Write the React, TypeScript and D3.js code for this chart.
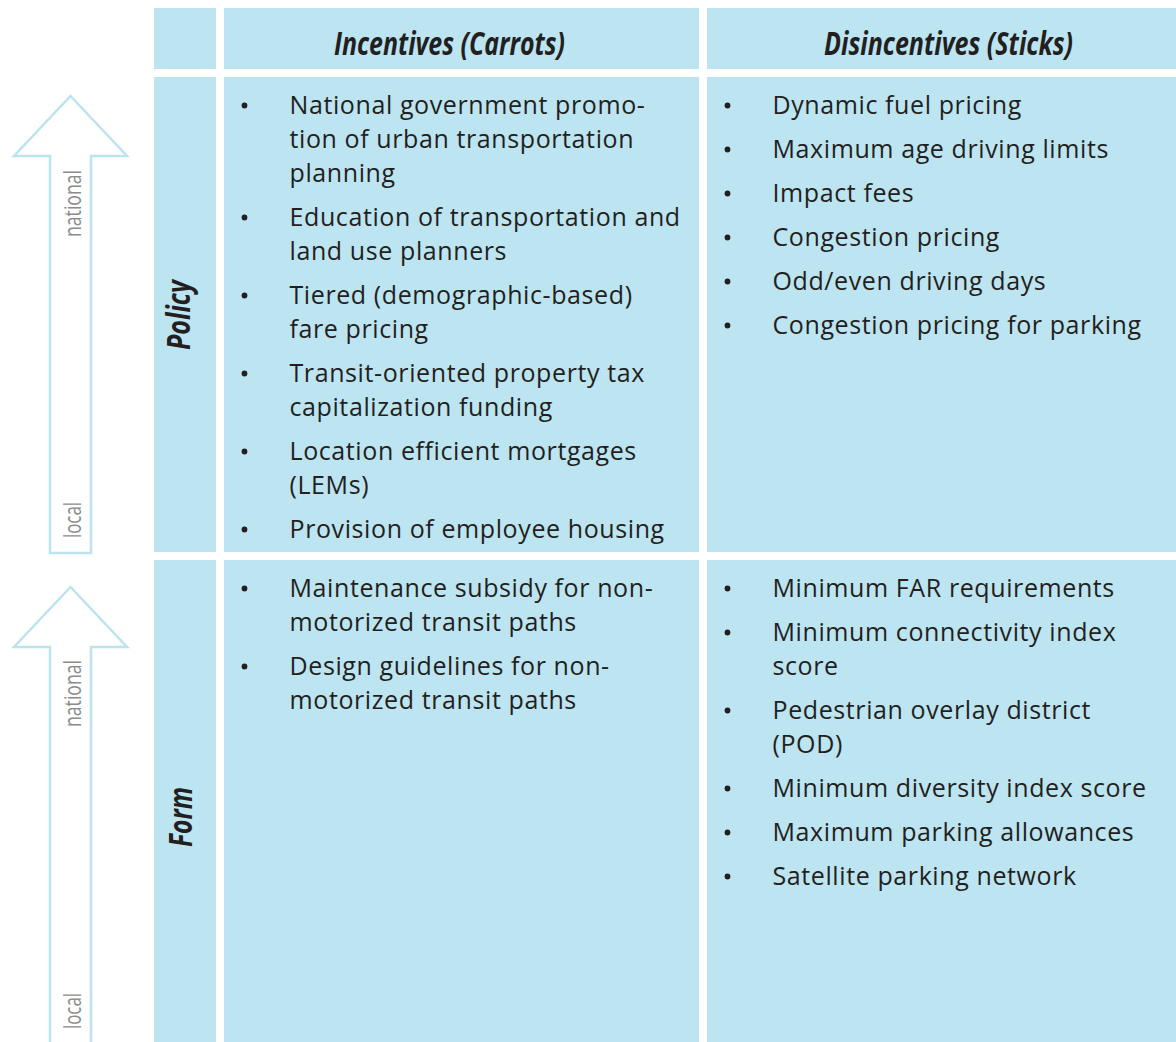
import * as d3 from 'd3';

const columns = ['Incentives (Carrots)', 'Disincentives (Sticks)'];
const rows = ['Policy', 'Form'];
const scaleEnds = ['national', 'local'];

const policyIncentives = [
  ['National government promo-', 'tion of urban transportation', 'planning'],
  ['Education of transportation and', 'land use planners'],
  ['Tiered (demographic-based)', 'fare pricing'],
  ['Transit-oriented property tax', 'capitalization funding'],
  ['Location efficient mortgages', '(LEMs)'],
  ['Provision of employee housing'],
];
const policyDisincentives = [
  ['Dynamic fuel pricing'],
  ['Maximum age driving limits'],
  ['Impact fees'],
  ['Congestion pricing'],
  ['Odd/even driving days'],
  ['Congestion pricing for parking'],
];
const formIncentives = [
  ['Maintenance subsidy for non-', 'motorized transit paths'],
  ['Design guidelines for non-', 'motorized transit paths'],
];
const formDisincentives = [
  ['Minimum FAR requirements'],
  ['Minimum connectivity index', 'score'],
  ['Pedestrian overlay district', '(POD)'],
  ['Minimum diversity index score'],
  ['Maximum parking allowances'],
  ['Satellite parking network'],
];

const cells = [
  [policyIncentives, policyDisincentives],
  [formIncentives, formDisincentives],
];

const width = 1176;
const height = 1042;
const fill = '#bce4f1';
const ink = '#231f20';
const arrowBlue = '#bde3ef';
const gray = '#8b8b8d';

// table grid (column/row edges)
const colX = d3.scaleOrdinal<string, number>().domain(['label', ...columns]).range([154, 224, 707]);
const colW = d3.scaleOrdinal<string, number>().domain(['label', ...columns]).range([62, 475, 500]);
const rowY = d3.scaleOrdinal<string, number>().domain(['header', ...rows]).range([8, 77, 560]);
const rowH = d3.scaleOrdinal<string, number>().domain(['header', ...rows]).range([61, 475, 520]);

const headerCenter = [449.5, 948.5];
const headerLength = [231, 249];
const rowLabelCenter = [315, 817];
const rowLabelLength = [70, 60];
const rowLabelBase = [190, 192];

const arrows = [
  { tip: 96, base: 156, bottom: 553, national: 237, local: 538 },
  { tip: 587, base: 647, bottom: 1060, national: 727, local: 1029 },
];
const endLength = [67, 36];

const lineStep = 34;
const itemGap = 10;

// baseline offset of every line of a cell, items separated by a small gap
function layoutLines(items: string[][]) {
  const counts = items.map((d) => d.length);
  const before = [0, ...Array.from(d3.cumsum(counts)).slice(0, -1)];
  return items.flatMap((item, i) =>
    item.map((t, j) => ({
      text: t,
      first: j === 0,
      dy: (before[i] + j) * lineStep + i * itemGap,
    })),
  );
}

const arrowPath = (a: (typeof arrows)[number]) =>
  d3.line()([
    [70.5, a.tip],
    [127, a.base],
    [91, a.base],
    [91, a.bottom],
    [50, a.bottom],
    [50, a.base],
    [14, a.base],
    [70.5, a.tip],
  ]) + 'Z';

export default function App() {
  return (
    <div style={{ position: 'absolute', left: 0, top: 0 }}>
      <svg width={width} height={height} style={{ display: 'block', background: '#fff' }}>
        {/* header row */}
        {['label', ...columns].map((c) => (
          <rect key={c} x={colX(c)} y={rowY('header')} width={colW(c)} height={rowH('header')} fill={fill} />
        ))}
        {columns.map((c, i) => (
          <text
            key={c}
            x={headerCenter[i]}
            y={55}
            textAnchor='middle'
            textLength={headerLength[i]}
            lengthAdjust='spacingAndGlyphs'
            fontFamily='Open Sans'
            fontWeight={700}
            fontStyle='italic'
            fontSize={33}
            fill={ink}
          >
            {c}
          </text>
        ))}

        {rows.map((r, ri) => {
          const a = arrows[ri];
          return (
            <g key={r}>
              <path d={arrowPath(a)} fill='#fff' stroke={arrowBlue} strokeWidth={2.5} />
              {scaleEnds.map((s, si) => (
                <text
                  key={s}
                  transform={`translate(81,${si === 0 ? a.national : a.local}) rotate(-90)`}
                  textLength={endLength[si]}
                  lengthAdjust='spacingAndGlyphs'
                  fontFamily='Open Sans'
                  fontSize={23}
                  fill={gray}
                >
                  {s}
                </text>
              ))}
              {['label', ...columns].map((c) => (
                <rect key={c} x={colX(c)} y={rowY(r)} width={colW(c)} height={rowH(r)} fill={fill} />
              ))}
              <text
                transform={`translate(${rowLabelBase[ri]},${rowLabelCenter[ri]}) rotate(-90)`}
                textAnchor='middle'
                textLength={rowLabelLength[ri]}
                lengthAdjust='spacingAndGlyphs'
                fontFamily='Open Sans'
                fontWeight={700}
                fontStyle='italic'
                fontSize={33}
                fill={ink}
              >
                {r}
              </text>
              {columns.map((c, ci) => {
                const first = rowY(r) + 36.5;
                return (
                  <g key={c}>
                    {layoutLines(cells[ri][ci]).map((l, li) => (
                      <g key={li}>
                        {l.first && <circle cx={colX(c) + 20.5} cy={first + l.dy - 8} r={2.9} fill={ink} />}
                        <text
                          x={colX(c) + 65.5}
                          y={first + l.dy}
                          fontFamily='Open Sans'
                          fontSize={25}
                          letterSpacing={0.6}
                          fill={ink}
                        >
                          {l.text}
                        </text>
                      </g>
                    ))}
                  </g>
                );
              })}
            </g>
          );
        })}
      </svg>
    </div>
  );
}
